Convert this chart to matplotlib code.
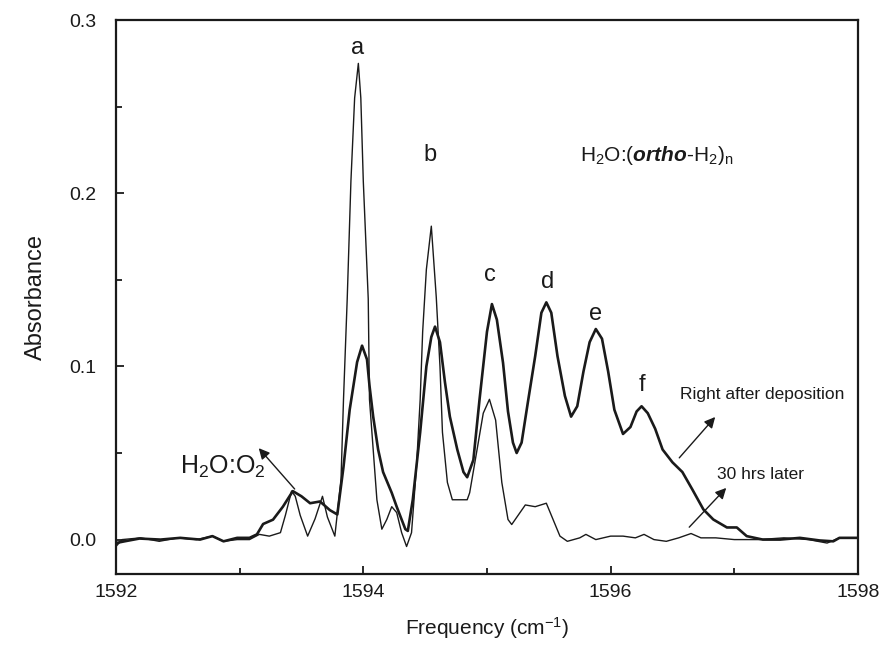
import matplotlib
matplotlib.use("Agg")
import matplotlib.pyplot as plt
from matplotlib.ticker import MultipleLocator, FormatStrFormatter

plt.rcParams['font.family'] = ['Liberation Sans', 'DejaVu Sans']
plt.rcParams['mathtext.fontset'] = 'custom'
plt.rcParams['mathtext.rm'] = 'Liberation Sans'
plt.rcParams['mathtext.it'] = 'Liberation Sans:italic'
plt.rcParams['mathtext.bf'] = 'Liberation Sans:bold'
plt.rcParams['mathtext.bfit'] = 'Liberation Sans:bold:italic'

# ==============================
# DATA
# ==============================
# right after deposition (thick line)
freq_fresh = [1592.00, 1592.07, 1592.19, 1592.36, 1592.52, 1592.68, 1592.78, 1592.87,
              1592.98, 1593.08, 1593.14, 1593.19, 1593.27, 1593.35, 1593.43, 1593.50,
              1593.57, 1593.65, 1593.73, 1593.79, 1593.84, 1593.89, 1593.95, 1593.99,
              1594.03, 1594.05, 1594.08, 1594.12, 1594.16, 1594.23, 1594.27, 1594.34,
              1594.36, 1594.40, 1594.46, 1594.51, 1594.55, 1594.58, 1594.62, 1594.66,
              1594.70, 1594.76, 1594.81, 1594.84, 1594.89, 1594.94, 1595.00, 1595.04,
              1595.08, 1595.13, 1595.17, 1595.21, 1595.24, 1595.28, 1595.33, 1595.39,
              1595.44, 1595.48, 1595.52, 1595.57, 1595.63, 1595.68, 1595.73, 1595.78,
              1595.83, 1595.88, 1595.93, 1595.98, 1596.03, 1596.10, 1596.16, 1596.21,
              1596.25, 1596.30, 1596.36, 1596.42, 1596.50, 1596.58, 1596.66, 1596.75,
              1596.83, 1596.94, 1597.02, 1597.10, 1597.23, 1597.37, 1597.53, 1597.69,
              1597.80, 1597.85, 1598.00]
abs_fresh = [-0.002, -0.001, 0.0006, 0.000, 0.001, 0.000, 0.002, -0.001,
             0.001, 0.001, 0.003, 0.009, 0.0115, 0.019, 0.028, 0.025,
             0.021, 0.022, 0.017, 0.0145, 0.042, 0.075, 0.1025, 0.112,
             0.104, 0.089, 0.071, 0.052, 0.039, 0.027, 0.019, 0.006,
             0.005, 0.023, 0.062, 0.100, 0.117, 0.123, 0.114, 0.091,
             0.071, 0.052, 0.039, 0.036, 0.046, 0.081, 0.120, 0.136,
             0.127, 0.102, 0.074, 0.056, 0.050, 0.056, 0.079, 0.106,
             0.131, 0.137, 0.131, 0.106, 0.083, 0.071, 0.077, 0.097,
             0.114, 0.1216, 0.116, 0.097, 0.075, 0.061, 0.065, 0.074,
             0.077, 0.073, 0.064, 0.052, 0.0446, 0.039, 0.029, 0.0174,
             0.0116, 0.007, 0.007, 0.002, 0.000, 0.000, 0.001, -0.0005,
             -0.001, 0.001, 0.001]

# 30 hrs later (thin line)
freq_later = [1592.00, 1592.05, 1592.20, 1592.35, 1592.50, 1592.65, 1592.78, 1592.87,
              1592.98, 1593.08, 1593.16, 1593.24, 1593.33, 1593.37, 1593.42, 1593.45,
              1593.49, 1593.55, 1593.61, 1593.67, 1593.71, 1593.77, 1593.82, 1593.84,
              1593.87, 1593.90, 1593.93, 1593.96, 1593.98, 1594.00, 1594.04, 1594.05,
              1594.08, 1594.11, 1594.15, 1594.19, 1594.23, 1594.27, 1594.31, 1594.35,
              1594.39, 1594.43, 1594.46, 1594.48, 1594.51, 1594.55, 1594.59, 1594.62,
              1594.64, 1594.68, 1594.72, 1594.84, 1594.86, 1594.92, 1594.97, 1595.02,
              1595.07, 1595.12, 1595.17, 1595.20, 1595.31, 1595.39, 1595.48, 1595.59,
              1595.65, 1595.75, 1595.80, 1595.88, 1596.00, 1596.10, 1596.20, 1596.27,
              1596.35, 1596.45, 1596.55, 1596.65, 1596.73, 1596.85, 1597.00, 1597.20,
              1597.40, 1597.60, 1597.75, 1597.85, 1598.00]
abs_later = [-0.004, 0.000, 0.001, -0.001, 0.001, 0.000, 0.002, -0.001,
             0.000, 0.000, 0.003, 0.002, 0.004, 0.014, 0.028, 0.025,
             0.014, 0.002, 0.012, 0.025, 0.013, 0.002, 0.035, 0.081,
             0.139, 0.207, 0.255, 0.275, 0.255, 0.207, 0.139, 0.081,
             0.052, 0.023, 0.006, 0.0116, 0.019, 0.0156, 0.004, -0.004,
             0.004, 0.042, 0.081, 0.120, 0.156, 0.181, 0.140, 0.100,
             0.062, 0.033, 0.023, 0.023, 0.027, 0.052, 0.073, 0.081,
             0.069, 0.033, 0.0116, 0.0087, 0.020, 0.019, 0.021, 0.002,
             -0.001, 0.001, 0.003, 0.000, 0.002, 0.002, 0.001, 0.003,
             0.000, -0.001, 0.001, 0.0035, 0.001, 0.001, 0.000, 0.000,
             0.001, 0.000, -0.002, 0.001, 0.001]

peak_labels = ['a', 'b', 'c', 'd', 'e', 'f']
peak_x = [1593.95, 1594.54, 1595.02, 1595.49, 1595.88, 1596.25]
peak_y = [0.284, 0.222, 0.153, 0.149, 0.130, 0.089]

# ==============================
# CHART
# ==============================
fig = plt.figure(figsize=(8.85, 6.57), dpi=100)
ax = fig.add_axes([0.131, 0.126, 0.8385, 0.8434])

ink = '#1a1a1a'
ax.plot(freq_fresh, abs_fresh, color=ink, lw=1.9, solid_joinstyle='round')
ax.plot(freq_later, abs_later, color=ink, lw=1.0, solid_joinstyle='round')

ax.set_xlim(1592, 1598)
ax.set_ylim(-0.02, 0.3)
ax.xaxis.set_major_locator(MultipleLocator(2))
ax.xaxis.set_minor_locator(MultipleLocator(1))
ax.yaxis.set_major_locator(MultipleLocator(0.1))
ax.yaxis.set_minor_locator(MultipleLocator(0.05))
ax.yaxis.set_major_formatter(FormatStrFormatter('%.1f'))
ax.tick_params(which='both', direction='in', labelsize=14, colors=ink, width=1.3)
ax.tick_params(which='major', length=6)
ax.tick_params(which='minor', length=4)
ax.tick_params(axis='x', which='major', pad=7)
ax.tick_params(axis='y', which='major', pad=14)
for s in ax.spines.values():
    s.set_linewidth(1.6)
    s.set_color(ink)

ax.set_xlabel('Frequency (cm$^{-1}$)', fontsize=15, color=ink, labelpad=10)
ax.set_ylabel('Absorbance', fontsize=17, color=ink, labelpad=16)

for lab, x, y in zip(peak_labels, peak_x, peak_y):
    ax.text(x, y, lab, fontsize=17, ha='center', va='center', color=ink)

ax.text(1595.75, 0.222, r'H$_2$O:($\mathbfit{ortho}$-H$_2$)$_\mathrm{n}$', fontsize=15,
        ha='left', va='center', color=ink)
ax.text(1592.52, 0.042, r'H$_2$O:O$_2$', fontsize=18, ha='left', va='center', color=ink)
ax.annotate('', xy=(1593.14, 0.054), xytext=(1593.46, 0.028),
            arrowprops=dict(arrowstyle='-|>', color=ink, lw=1.0, mutation_scale=16))

ax.text(1596.56, 0.084, 'Right after deposition', fontsize=12.5, ha='left', va='center', color=ink)
ax.annotate('', xy=(1596.86, 0.072), xytext=(1596.54, 0.046),
            arrowprops=dict(arrowstyle='-|>', color=ink, lw=1.0, mutation_scale=16))

ax.text(1596.86, 0.0376, '30 hrs later', fontsize=12.5, ha='left', va='center', color=ink)
ax.annotate('', xy=(1596.95, 0.031), xytext=(1596.62, 0.006),
            arrowprops=dict(arrowstyle='-|>', color=ink, lw=1.0, mutation_scale=16))

fig.savefig('out.png', dpi=100)
